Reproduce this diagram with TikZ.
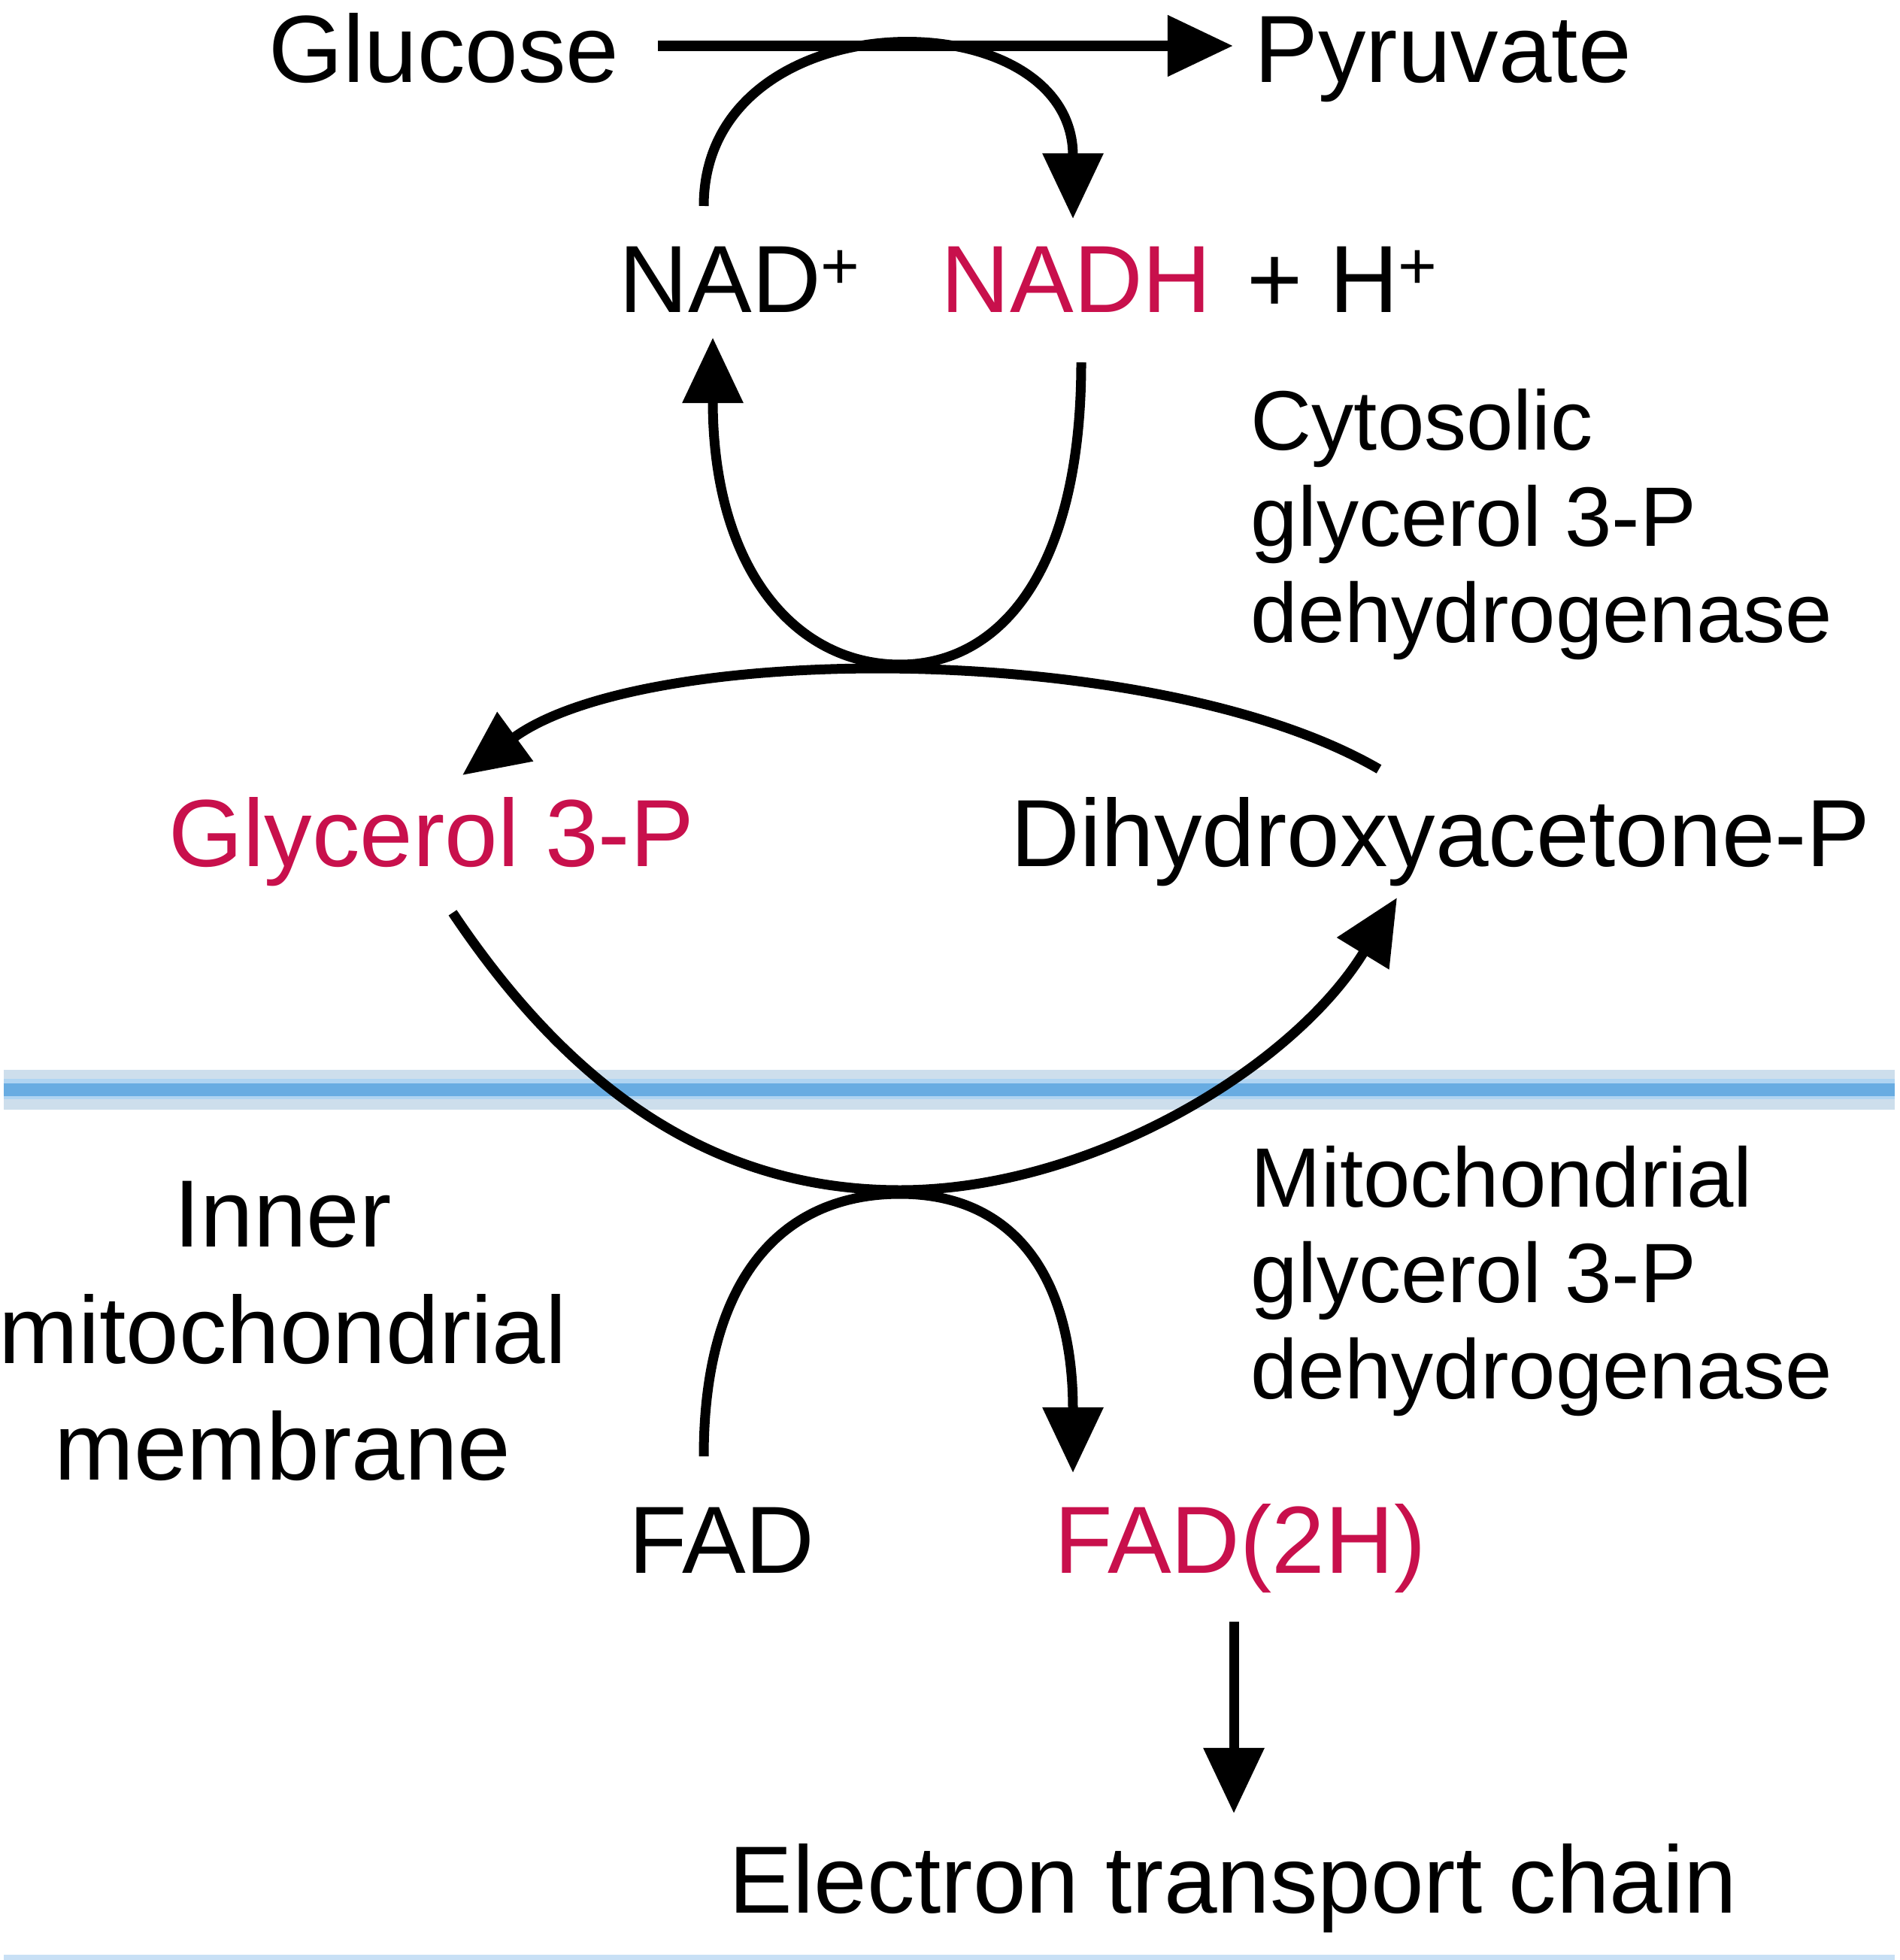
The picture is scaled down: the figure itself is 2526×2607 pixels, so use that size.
\documentclass[tikz,border=0pt]{standalone}
\usepackage{fontspec}
\setmainfont{Liberation Sans}
\usetikzlibrary{arrows.meta}
\definecolor{crim}{RGB}{200,16,76}
\definecolor{memA}{RGB}{205,222,236}
\definecolor{memB}{RGB}{175,212,242}
\definecolor{memC}{RGB}{104,172,226}
\definecolor{memD}{RGB}{200,224,245}
\begin{document}
\begin{tikzpicture}[x=0.01cm,y=-0.01cm,
  big/.style={font=\fontsize{36.1}{44.1}\selectfont, inner sep=0, anchor=base west},
  small/.style={font=\fontsize{31.9}{36.3}\selectfont, inner sep=0, anchor=base west},
  tipA/.style={-{Triangle[length=0.87cm,width=0.78cm]}},
  conn/.style={line width=0.13cm, tipA},
  mainline/.style={line width=0.145cm, tipA}]

\useasboundingbox (0,0) rectangle (2526,2607);

% membrane and bottom rule
\fill[memA] (5,1423) rectangle (2520,1476);
\fill[memB] (5,1435) rectangle (2520,1462);
\fill[memC] (5,1441) rectangle (2520,1458);
\fill[memD] (5,2600) rectangle (2520,2607);

% labels
\node[big] (glu) at (357,110) {Glucose};
\node[big] (pyr) at (1668,110) {Pyruvate};
\node[big] (nad) at (823,416) {NAD\textsuperscript{+}};
\node[big,text=crim] (nadh) at (1251,416) {NADH};
\node[big] (hplus) at (1658,416) {+ H\textsuperscript{+}};
\node[small] (cyt) at (1663,599) {\begin{tabular}[t]{@{}l@{}}Cytosolic\\glycerol 3-P\\dehydrogenase\end{tabular}};
\node[big,text=crim] (g3p) at (224,1152) {Glycerol 3-P};
\node[big] (dhap) at (1344,1152) {Dihydroxyacetone-P};
\node[big,anchor=base,font=\fontsize{36.1}{44.1}\selectfont] (imm) at (376,1658) {\begin{tabular}[t]{@{}c@{}}Inner\\mitochondrial\\membrane\end{tabular}};
\node[small] (mito) at (1663,1605) {\begin{tabular}[t]{@{}l@{}}Mitochondrial\\glycerol 3-P\\dehydrogenase\end{tabular}};
\node[big] (fad) at (836,2092) {FAD};
\node[big,text=crim] (fad2h) at (1402,2092) {FAD(2H)};
\node[big] (etc) at (969,2544) {Electron transport chain};

% connector ends
\coordinate (gluE) at (875,61);
\coordinate (pyrW) at (1640,61);
\coordinate (nadA) at (936,274);
\coordinate (nadhA) at (1427,291);
\coordinate (nadhB) at (1438,482);
\coordinate (nadB) at (948,449);
\coordinate (dhapA) at (1834,1023);
\coordinate (g3pA) at (615,1031);
\coordinate (g3pB) at (602,1214);
\coordinate (dhapB) at (1858,1194);
\coordinate (fadA) at (936,1937);
\coordinate (fad2hA) at (1427,1959);
\coordinate (fad2hB) at (1641,2157);
\coordinate (etcA) at (1641,2412);

% connectors
\draw[mainline] (gluE) -- (pyrW);
\draw[conn] (nadA) .. controls (936,-5) and (1427,-5) .. (nadhA);
\draw[conn] (nadhB) .. controls (1438,760) and (1330,884) .. (1197,884) .. controls (1060,884) and (948,760) .. (nadB);
\draw[conn] (dhapA) .. controls (1540,852) and (860,852) .. (g3pA);
\draw[conn] (g3pB) .. controls (760,1450) and (950,1583) .. (1197,1583) .. controls (1450,1583) and (1720,1420) .. (dhapB);
\draw[conn] (fadA) .. controls (936,1700) and (1040,1588) .. (1197,1588) .. controls (1350,1588) and (1427,1700) .. (fad2hA);
\draw[conn] (fad2hB) -- (etcA);
\end{tikzpicture}
\end{document}
